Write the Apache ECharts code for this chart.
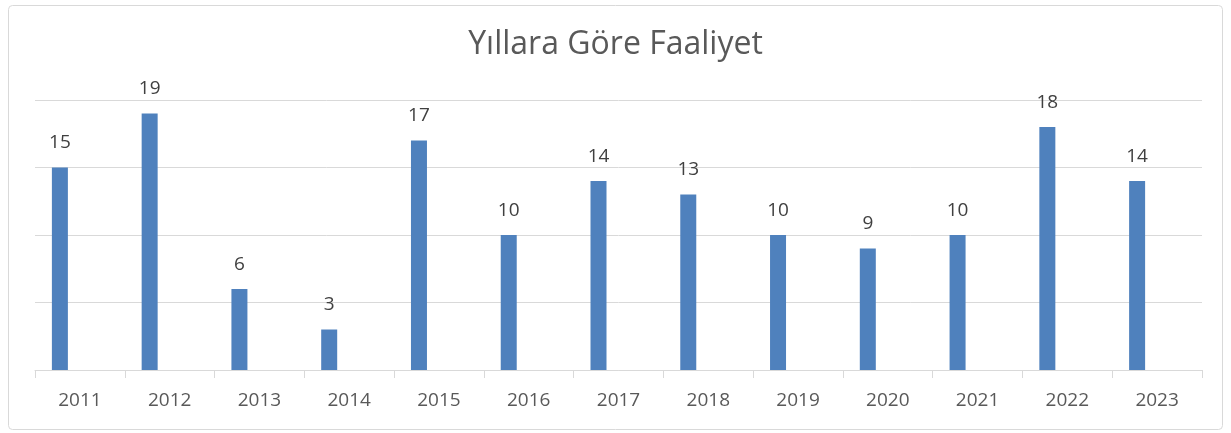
<!DOCTYPE html>
<html>
<head>
<meta charset="utf-8">
<script src="https://cdn.jsdelivr.net/npm/echarts@6/dist/echarts.min.js"></script>
<style>
  html, body { margin: 0; padding: 0; background: #fff; }
  #chart { width: 1231px; height: 433px; }
</style>
</head>
<body>
<div id="chart"></div>
<script>
const years = ["2011", "2012", "2013", "2014", "2015", "2016", "2017", "2018", "2019", "2020", "2021", "2022", "2023"];
const activity = [15, 19, 6, 3, 17, 10, 14, 13, 10, 9, 10, 18, 14];
// empty second series, keeps the bars on the left of each slot like the source
const emptySeries = years.map(() => "-");

const myChart = echarts.init(document.getElementById("chart"));

const option = {
  animation: false,
  textStyle: {
    fontFamily: "Open Sans",
  },
  title: {
    text: "Yıllara Göre Faaliyet",
    left: "center",
    top: 24,
    textStyle: {
      fontSize: 32,
      fontWeight: "normal",
      color: "#595959",
      fontFamily: "Open Sans",
    },
  },
  graphic: [
    {
      type: "rect",
      shape: { x: 8.5, y: 5.5, width: 1214, height: 424, r: 4 },
      style: { fill: "none", stroke: "#d9d9d9", lineWidth: 1 },
      silent: true,
    },
  ],
  grid: {
    left: 35,
    right: 29,
    top: 100,
    bottom: 63,
  },
  xAxis: {
    type: "category",
    data: years,
    axisLine: { lineStyle: { color: "#d9d9d9" } },
    axisTick: { show: true, length: 8, lineStyle: { color: "#d9d9d9" } },
    axisLabel: {
      color: "#595959",
      fontSize: 19,
      margin: 21,
    },
  },
  yAxis: {
    type: "value",
    min: 0,
    max: 20,
    interval: 5,
    axisLabel: { show: false },
    axisLine: { show: false },
    axisTick: { show: false },
    splitLine: { lineStyle: { color: "#d9d9d9" } },
  },
  series: [
    {
      type: "bar",
      data: activity,
      barWidth: 16,
      barGap: "150%",
      itemStyle: { color: "#4f81bd" },
      label: {
        show: true,
        position: "top",
        distance: 15,
        color: "#404040",
        fontSize: 19,
      },
    },
    {
      type: "bar",
      data: emptySeries,
      barWidth: 16,
    },
  ],
};

myChart.setOption(option);
</script>
</body>
</html>
